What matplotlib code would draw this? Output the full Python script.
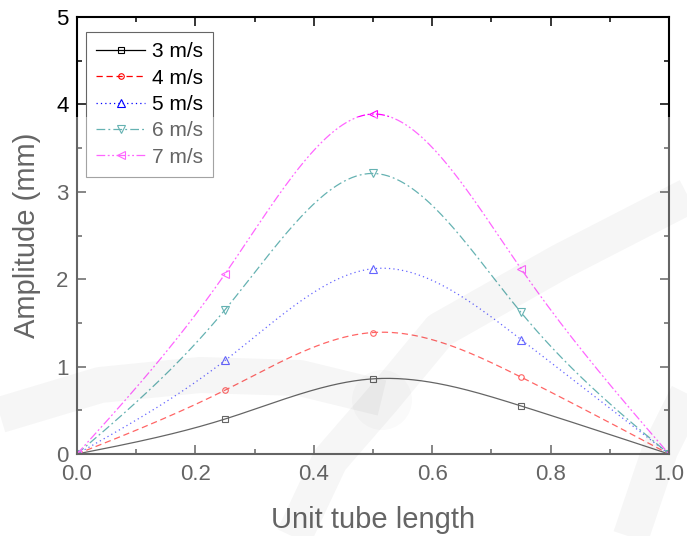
import numpy as np
import matplotlib
matplotlib.use("Agg")
import matplotlib.pyplot as plt
from matplotlib.patches import Rectangle, Circle
from matplotlib.lines import Line2D
from matplotlib.transforms import Affine2D
from matplotlib.ticker import MultipleLocator

plt.rcParams["font.family"] = ["Liberation Sans", "DejaVu Sans"]

# data
positions = [0.0, 0.25, 0.5, 0.75, 1.0]
labels = ["3 m/s", "4 m/s", "5 m/s", "6 m/s", "7 m/s"]
amp_3 = [0.0, 0.40, 0.86, 0.55, 0.0]
amp_4 = [0.0, 0.73, 1.39, 0.88, 0.0]
amp_5 = [0.0, 1.07, 2.12, 1.31, 0.0]
amp_6 = [0.0, 1.65, 3.21, 1.62, 0.0]
amp_7 = [0.0, 2.06, 3.89, 2.12, 0.0]

colors = ["black", "red", "blue", "#008080", "magenta"]
markers = ["s", "o", "^", "v", "<"]
msizes = [4, 4, 5.5, 5.5, 5.5]
dashes = ["-", (0, (5, 3)), (0, (1, 2.5)), (0, (7, 2.5, 1.5, 2.5)),
          (0, (7, 2, 1.5, 2, 1.5, 2))]


def smooth(x, y, n=300):
    # natural cubic spline through the points, only for drawing the line
    x = np.asarray(x, float)
    y = np.asarray(y, float)
    k = len(x)
    h = np.diff(x)
    A = np.zeros((k, k))
    b = np.zeros(k)
    A[0, 0] = A[-1, -1] = 1
    for i in range(1, k - 1):
        A[i, i - 1] = h[i - 1]
        A[i, i] = 2 * (h[i - 1] + h[i])
        A[i, i + 1] = h[i]
        b[i] = 6 * ((y[i + 1] - y[i]) / h[i] - (y[i] - y[i - 1]) / h[i - 1])
    M = np.linalg.solve(A, b)
    xs = np.linspace(x[0], x[-1], n)
    idx = np.clip(np.searchsorted(x, xs) - 1, 0, k - 2)
    x0, x1 = x[idx], x[idx + 1]
    hh = x1 - x0
    t0, t1 = x1 - xs, xs - x0
    ys = (M[idx] * t0 ** 3 + M[idx + 1] * t1 ** 3) / (6 * hh) \
        + (y[idx] / hh - M[idx] * hh / 6) * t0 + (y[idx + 1] / hh - M[idx + 1] * hh / 6) * t1
    return xs, ys


W, H = 687, 536
fig = plt.figure(figsize=(W / 100, H / 100), dpi=100)
ax = fig.add_axes([77 / W, 1 - 454 / H, (669 - 77) / W, (454 - 17) / H])

series = [amp_3, amp_4, amp_5, amp_6, amp_7]
handles = []
for vals, lab, c, m, ms, ls in zip(series, labels, colors, markers, msizes, dashes):
    xs, ys = smooth(positions, vals)
    ax.plot(xs, ys, color=c, lw=0.9, linestyle=ls)
    ax.plot(positions, vals, linestyle="none", marker=m, ms=ms, mfc="none",
            mec=c, mew=0.8)
    handles.append(Line2D([], [], color=c, lw=0.9, linestyle=ls, marker=m, ms=ms,
                          mfc="none", mec=c, mew=0.8))

ax.set_xlim(0, 1)
ax.set_ylim(0, 5)
ax.xaxis.set_major_locator(MultipleLocator(0.2))
ax.xaxis.set_minor_locator(MultipleLocator(0.1))
ax.yaxis.set_major_locator(MultipleLocator(1))
ax.yaxis.set_minor_locator(MultipleLocator(0.5))
ax.xaxis.set_major_formatter(plt.FormatStrFormatter("%.1f"))
ax.tick_params(which="both", direction="in", top=True, right=True, width=1.1,
               labelsize=16, color="black")
ax.tick_params(which="major", length=6.5)
ax.tick_params(which="minor", length=3.6)
ax.tick_params(axis="x", pad=7)
ax.tick_params(axis="y", pad=6)
for s in ax.spines.values():
    s.set_linewidth(1.5)

ax.set_xlabel("Unit tube length", fontsize=21, labelpad=15)
ax.set_ylabel("Amplitude (mm)", fontsize=21, labelpad=11)

leg = ax.legend(handles, labels, loc="upper left", bbox_to_anchor=(9 / 592, 1 - 15 / 437),
                borderaxespad=0, fontsize=15, handlelength=2.35, handletextpad=0.3,
                labelspacing=0.35, borderpad=0.5, fancybox=False, framealpha=1)
leg.get_frame().set_edgecolor("#666666")
leg.get_frame().set_linewidth(0.8)

# faint watermark over the lower part of the picture
px = Affine2D().scale(1 / W, -1 / H).translate(0, 1) + fig.transFigure
fig.add_artist(Rectangle((0, 117), W, H - 117, transform=px, color="white",
                         alpha=0.4, lw=0, zorder=10))
bands = [
    ([700, 560, 440, 382, 330, 290], [190, 262, 330, 400, 460, 545]),
    ([0, 100, 200, 300, 382], [415, 385, 375, 378, 398]),
    ([700, 660, 628], [370, 450, 545]),
]
for bx, by in bands:
    fig.add_artist(Line2D(bx, by, transform=px, color="black", alpha=0.035,
                          lw=26, solid_capstyle="butt", solid_joinstyle="round",
                          zorder=11))
fig.add_artist(Circle((382, 400), 30, transform=px, color="black", alpha=0.02,
                      lw=0, zorder=11))

fig.savefig("out.png", dpi=100)
